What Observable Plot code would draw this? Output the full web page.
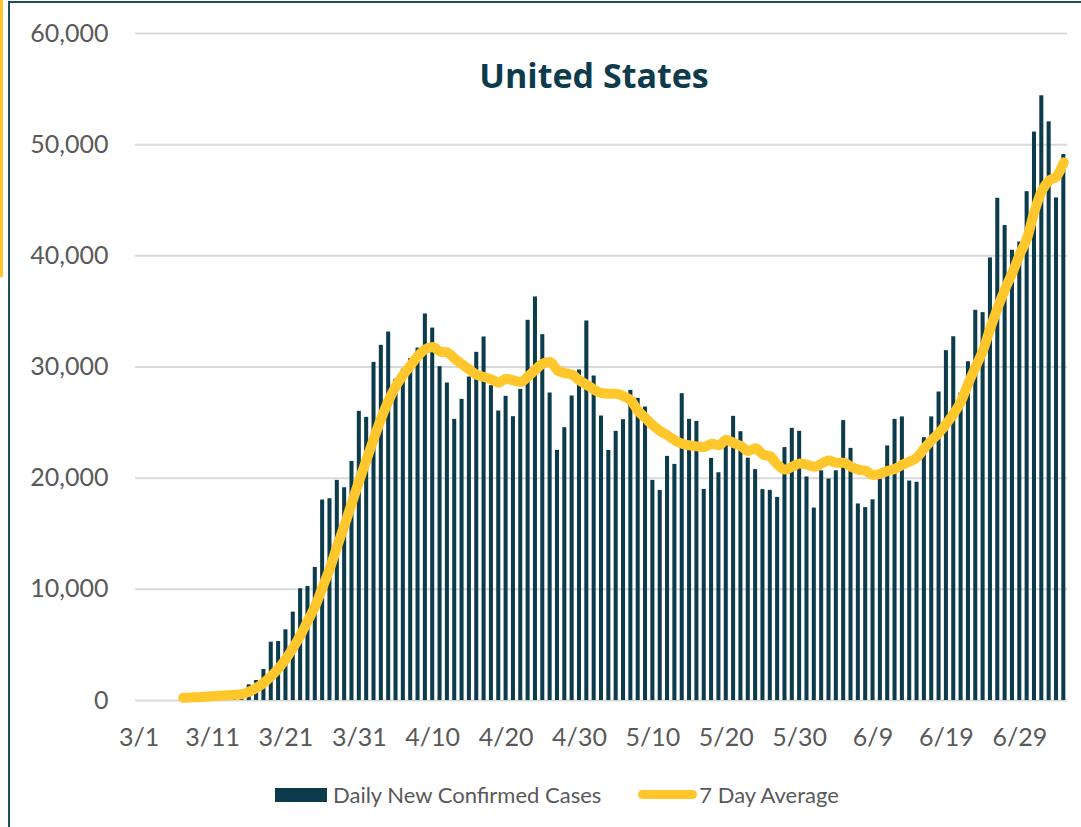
<!DOCTYPE html>
<html>
<head>
<meta charset="utf-8">
<script src="https://cdn.jsdelivr.net/npm/d3@7"></script>
<script src="https://cdn.jsdelivr.net/npm/@observablehq/plot@0.6"></script>
<style>
  body { margin: 0; background: #fff; }
  #wrap { position: relative; width: 1081px; height: 827px; overflow: hidden; font-family: Lato, "Open Sans", sans-serif; background: #fff; }
  .stripe { position: absolute; left: 0; top: 0; width: 3px; height: 277px; background: #ffc72c; }
  .frame { position: absolute; left: 8px; top: 1px; width: 1100px; height: 900px; border-left: 2px solid #1f4d5c; border-top: 2px solid #1f4d5c; }
  #chart { position: absolute; left: 0; top: 0; }
  .title { position: absolute; left: 394px; width: 400px; top: 58px; text-align: center; font-family: "Open Sans", Lato, sans-serif; font-size: 34px; line-height: 34px; font-weight: 700; color: #0d3b4c; }
  .legend { position: absolute; left: 275px; top: 781px; display: flex; align-items: center; font-size: 22px; color: #595959; white-space: nowrap; }
  .sw-bar { display: inline-block; width: 52px; height: 14px; background: #0c3c4c; margin-right: 6px; }
  .sw-line { display: inline-block; width: 59px; height: 9px; border-radius: 5px; background: #ffc72c; margin-left: 37px; margin-right: 2px; }
</style>
</head>
<body>
<div id="wrap">
  <div class="stripe"></div>
  <div class="frame"></div>
  <div id="chart"></div>
  <div class="title">United States</div>
  <div class="legend">
    <span class="sw-bar"></span><span>Daily New Confirmed Cases</span>
    <span class="sw-line"></span><span>7 Day Average</span>
  </div>
</div>
<script>
const dates = [
  "3/1","3/2","3/3","3/4","3/5","3/6","3/7","3/8","3/9","3/10","3/11","3/12","3/13","3/14","3/15","3/16",
  "3/17","3/18","3/19","3/20","3/21","3/22","3/23","3/24","3/25","3/26","3/27","3/28","3/29","3/30","3/31",
  "4/1","4/2","4/3","4/4","4/5","4/6","4/7","4/8","4/9","4/10","4/11","4/12","4/13","4/14","4/15","4/16",
  "4/17","4/18","4/19","4/20","4/21","4/22","4/23","4/24","4/25","4/26","4/27","4/28","4/29","4/30",
  "5/1","5/2","5/3","5/4","5/5","5/6","5/7","5/8","5/9","5/10","5/11","5/12","5/13","5/14","5/15","5/16",
  "5/17","5/18","5/19","5/20","5/21","5/22","5/23","5/24","5/25","5/26","5/27","5/28","5/29","5/30","5/31",
  "6/1","6/2","6/3","6/4","6/5","6/6","6/7","6/8","6/9","6/10","6/11","6/12","6/13","6/14","6/15","6/16",
  "6/17","6/18","6/19","6/20","6/21","6/22","6/23","6/24","6/25","6/26","6/27","6/28","6/29","6/30",
  "7/1","7/2","7/3","7/4","7/5"
];

const cases = [
  0, 0, 0, 0, 0, 0, 150, 120, 110, 200, 350, 450, 600, 750, 700,
  1410, 1800, 2790, 5250, 5310, 6360, 7950, 10050, 10260, 11970,
  18030, 18150, 19800, 19140, 21510, 26010, 25470, 30420, 31950, 33150,
  28900, 29800, 30750, 31700, 34770, 33500, 30030, 28560, 25290, 27090,
  29100, 31320, 32700, 28320, 26040, 27360, 25530, 27990, 34200, 36300,
  32910, 27660, 22500, 24540, 27390, 29730, 34140, 29190, 25590, 22500,
  24210, 25260, 27900, 27180, 26400, 19800, 18900, 21960, 21240, 27600,
  25290, 25110, 18990, 21780, 20490, 23500, 25560, 24180, 21800, 20770,
  18970, 18900, 18270, 22750, 24480, 24220, 20110, 17310, 20660, 19920,
  20660, 25180, 22680, 17680, 17350, 18050, 19920, 22900, 25290, 25510,
  19740, 19630, 23640, 25510, 27750, 31470, 32720, 27650, 30470, 35100,
  34890, 39810, 45180, 42720, 40500, 41240, 45770, 51130, 54400, 52050,
  45210, 49110
];

// 7-day average, starting at 3/7
const avgStart = 6;
const avg = [
  240, 270, 300, 330, 380, 420, 470, 510, 560,
  800, 1150, 1600, 2200, 2900, 3750, 4750, 5900, 7200, 8500,
  10200, 11900, 13900, 15800, 17800, 19800, 21700, 23600, 25400, 27000,
  28300, 29300, 30150, 31000, 31600, 31800, 31400, 31300, 30750, 30240,
  29760, 29310, 29100, 28890, 28590, 28950, 28800, 28650, 29160, 29760,
  30300, 30450, 29700, 29460, 29310, 28800, 28410, 27960, 27660, 27600,
  27600, 27360, 27000, 26040, 25410, 24750, 24240, 23850, 23400, 23100,
  22950, 22860, 22800, 23100, 22950, 23460, 23160, 22890, 22450, 22680,
  22130, 21950, 21210, 20770, 21030, 21320, 21210, 21030, 21320, 21580,
  21390, 21390, 21030, 20770, 20660, 20290, 20400, 20660, 20840, 21210,
  21500, 21870, 22680, 23420, 24080, 24890, 25810, 26910, 28560, 30030,
  31500, 33520, 35360, 37020, 38490, 40140, 41610, 44000, 45840, 46760,
  47130, 48410
];

const xTicks = ["3/1","3/11","3/21","3/31","4/10","4/20","4/30","5/10","5/20","5/30","6/9","6/19","6/29"];
const yTicks = [0, 10000, 20000, 30000, 40000, 50000, 60000];

const barData = dates.map((d, i) => ({date: d, cases: cases[i]}));
const avgData = avg.map((v, i) => ({date: dates[i + avgStart], avg: v}));

const chart = Plot.plot({
  width: 1081,
  height: 765,
  marginLeft: 135,
  marginRight: 14,
  marginTop: 33,
  marginBottom: 65,
  style: {fontFamily: "Lato, 'Open Sans', sans-serif", fontSize: "25px", color: "#595959", background: "transparent", overflow: "visible"},
  x: {type: "band", domain: dates, paddingInner: 0.45, paddingOuter: 0.225, ticks: xTicks, tickSize: 0, tickPadding: 28, label: null},
  y: {domain: [0, 60000], ticks: yTicks, tickFormat: d3.format(","), tickSize: 0, tickPadding: 27, label: null},
  marks: [
    Plot.gridY(yTicks, {stroke: "#d9d9d9", strokeOpacity: 1, strokeWidth: 2}),
    Plot.barY(barData, {x: "date", y: "cases", fill: "#0c3c4c"}),
    Plot.lineY(avgData, {x: "date", y: "avg", stroke: "#ffc72c", strokeWidth: 10, strokeLinecap: "round", strokeLinejoin: "round", curve: "monotone-x"})
  ]
});
document.getElementById("chart").appendChild(chart);
</script>
</body>
</html>
